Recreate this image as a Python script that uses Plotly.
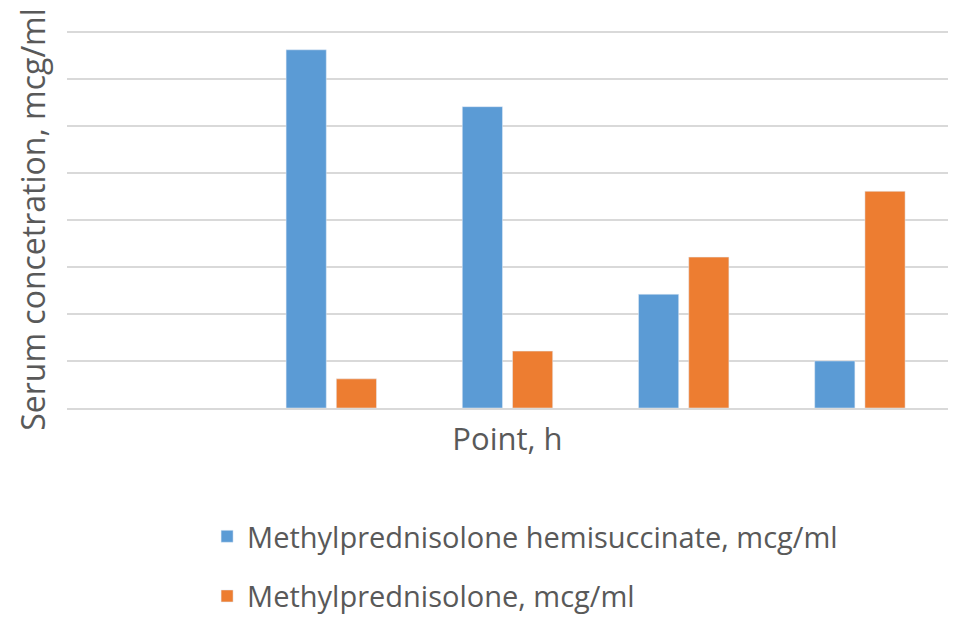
import plotly.graph_objects as go

categories = ["0", "1", "3", "6", "12"]
hemisuccinate = [None, 7.62, 6.41, 2.42, 1.0]
methylpred = [None, 0.62, 1.21, 3.21, 4.61]
series_names = ["Methylprednisolone hemisuccinate, mcg/ml", "Methylprednisolone, mcg/ml"]
y_max = 8

FONT = "Open Sans"
TXT = "#595959"
GRID = "#d9d9d9"

fig = go.Figure()
fig.add_trace(go.Bar(x=categories, y=hemisuccinate, name=series_names[0],
                     marker_color="#5B9BD5", legendgroup="a"))
fig.add_trace(go.Bar(x=categories, y=methylpred, name=series_names[1],
                     marker_color="#ED7D31", legendgroup="b"))

# top gridline (plotly hides the one at the very edge of the range)
fig.add_shape(type="line", xref="paper", x0=0, x1=1, yref="y", y0=y_max, y1=y_max,
              line=dict(color=GRID, width=2), layer="below")

fig.update_layout(
    width=953, height=610,
    margin=dict(l=59, r=13, t=23, b=210, autoexpand=False),
    paper_bgcolor="white", plot_bgcolor="white",
    barmode="group", bargap=0.43, bargroupgap=0.2,
    font=dict(family=FONT, color=TXT, size=29),
    showlegend=True,
    legend=dict(orientation="v", x=0.159, xanchor="left", xref="paper",
                y=-0.273, yanchor="top", font=dict(size=29, color=TXT),
                tracegroupgap=19, bgcolor="rgba(0,0,0,0)"),
    xaxis=dict(type="category", showticklabels=False, showgrid=False,
               ticks="", showline=True, linecolor=GRID, linewidth=2,
               title=dict(text="Point, h", standoff=19, font=dict(size=31, color=TXT))),
    yaxis=dict(range=[0, 8.02], tickvals=list(range(0, y_max + 1)),
               showticklabels=False, ticks="",
               showgrid=True, gridcolor=GRID, gridwidth=2,
               zeroline=False, showline=False,
               title=dict(text="Serum concetration, mcg/ml", standoff=10,
                          font=dict(size=32, color=TXT))),
)

fig.write_html("out.html")
